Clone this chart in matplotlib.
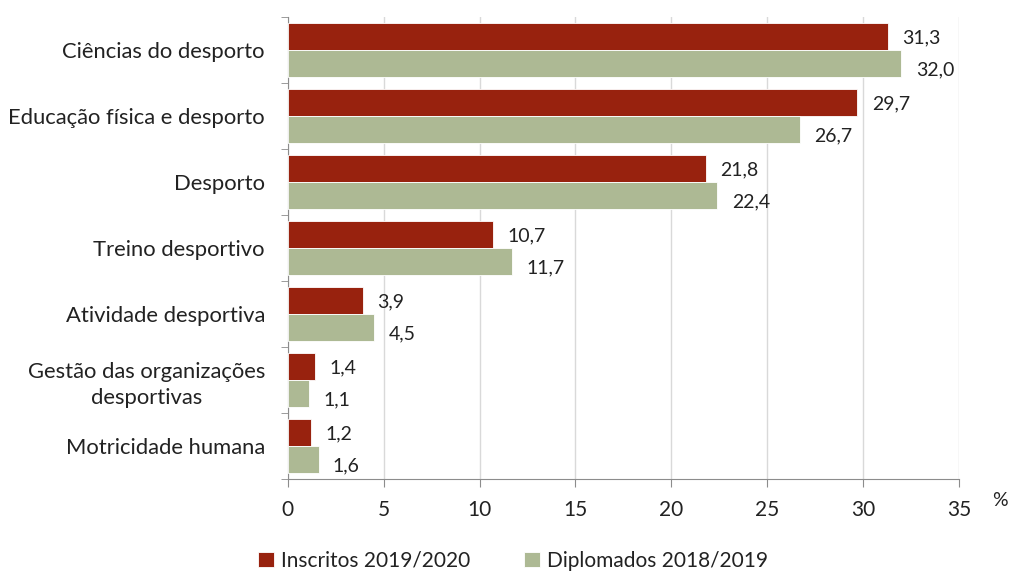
import matplotlib
matplotlib.use('Agg')
import matplotlib.pyplot as plt
import numpy as np

categories = ['Ciências do desporto', 'Educação física e desporto', 'Desporto',
              'Treino desportivo', 'Atividade desportiva',
              'Gestão das organizações\ndesportivas', 'Motricidade humana']
inscritos = [31.3, 29.7, 21.8, 10.7, 3.9, 1.4, 1.2]
diplomados = [32.0, 26.7, 22.4, 11.7, 4.5, 1.1, 1.6]
series_names = ['Inscritos 2019/2020', 'Diplomados 2018/2019']

red = '#98220E'
green = '#ADB994'
axis_col = '#8C8C8C'
txt = '#222222'

plt.rcParams['font.family'] = ['Lato', 'DejaVu Sans']

fig = plt.figure(figsize=(10.1, 5.74), dpi=100)
ax = fig.add_axes([0.285, 0.1655, 0.6645, 0.805])

y = np.arange(len(categories))
h = 0.41
b1 = ax.barh(y - h / 2, inscritos, height=h, color=red, edgecolor='white', linewidth=0.6,
             label=series_names[0], zorder=3)
b2 = ax.barh(y + h / 2, diplomados, height=h, color=green, edgecolor='white', linewidth=0.6,
             label=series_names[1], zorder=3)

for rect, v in zip(b1, inscritos):
    ax.text(v + 0.75, rect.get_y() + rect.get_height() / 2 + 0.02, f'{v:.1f}'.replace('.', ','),
            va='center', ha='left', fontsize=14, color=txt)
for rect, v in zip(b2, diplomados):
    ax.text(v + 0.75, rect.get_y() + rect.get_height() / 2 + 0.1, f'{v:.1f}'.replace('.', ','),
            va='center', ha='left', fontsize=14, color=txt)

ax.set_xlim(0, 35)
ax.set_ylim(len(categories) - 0.5, -0.5)
ax.set_xticks(range(0, 36, 5))
ax.set_yticks(y)
ax.set_yticklabels(categories, fontsize=15.8, ha='right', multialignment='center',
                   linespacing=1.4, color=txt)
ax.tick_params(axis='y', length=0, pad=16.5)
ax.set_yticks(np.arange(-0.5, len(categories), 1), minor=True)
ax.tick_params(axis='y', which='minor', length=5, color=axis_col, direction='out')
ax.tick_params(axis='x', length=6, color=axis_col, labelsize=15, pad=9, labelcolor=txt)

ax.grid(axis='x', color='#D9D9D9', linewidth=1, zorder=0)
for s in ['top', 'right']:
    ax.spines[s].set_visible(False)
ax.spines['left'].set_color(axis_col)
ax.spines['bottom'].set_color(axis_col)

fig.text(0.99, 0.118, '%', fontsize=14, ha='center', color=txt)

fig.legend(handles=[b1, b2], labels=series_names, loc='lower center',
           bbox_to_anchor=(0.508, -0.027), ncol=2, frameon=False, fontsize=15,
           handlelength=0.75, handleheight=0.75, handletextpad=0.35, columnspacing=2.6,
           labelcolor=txt)

fig.savefig('out.png', dpi=100)
